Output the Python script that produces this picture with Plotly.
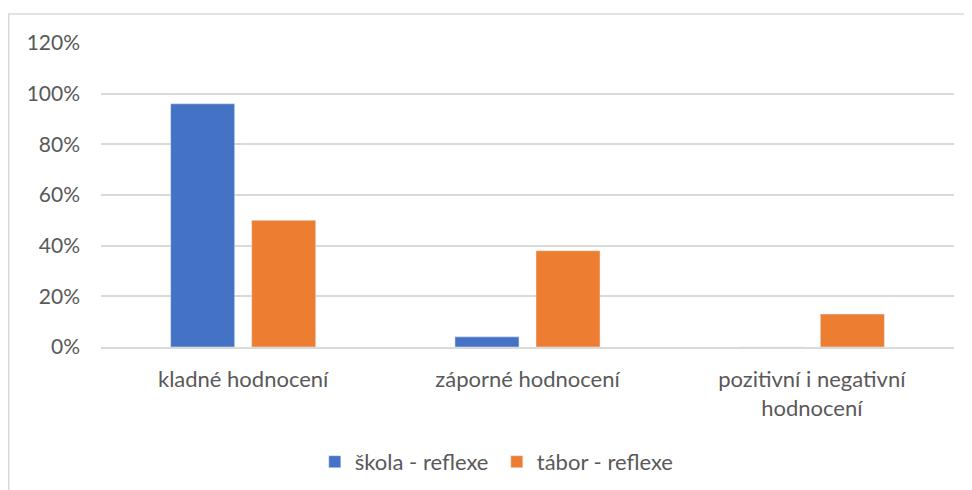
import plotly.graph_objects as go

kategorie = ["kladné hodnocení", "záporné hodnocení", "pozitivní i negativní<br>hodnocení"]
skola = [0.96, 0.04, 0.0]
tabor = [0.50, 0.38, 0.13]
y_ticks = [0, 0.2, 0.4, 0.6, 0.8, 1.0, 1.2]
y_labels = ["0%", "20%", "40%", "60%", "80%", "100%", "120%"]

font = "Lato, sans-serif"

fig = go.Figure()
fig.add_trace(go.Bar(name="škola - reflexe", x=kategorie, y=skola, marker_color="#4472C4"))
fig.add_trace(go.Bar(name="tábor - reflexe", x=kategorie, y=tabor, marker_color="#ED7D31"))

# page body has an 8px margin, so the figure is a bit smaller than the window
fig.update_layout(
    width=964, height=482,
    margin=dict(l=93, r=18, t=35, b=143, autoexpand=False),
    paper_bgcolor="white", plot_bgcolor="white",
    barmode="group", bargap=0.43, bargroupgap=0.21,
    font=dict(family=font, size=21, color="#595959"),
    legend=dict(orientation="h", x=0.464, xanchor="center", y=-0.378, yanchor="middle",
                font=dict(size=22), itemwidth=30, entrywidth=137, entrywidthmode="pixels"),
    showlegend=True,
)
fig.update_yaxes(range=[0, 1.2], tickvals=y_ticks, ticktext=y_labels, automargin=False,
                 showgrid=True, gridcolor="#d9d9d9", gridwidth=1.5,
                 zeroline=False, showline=False, ticks="", ticklabelstandoff=20)
fig.update_xaxes(showgrid=False, showline=True, linecolor="#d9d9d9", linewidth=1.5,
                 ticks="", ticklabelstandoff=12, automargin=False, tickfont=dict(size=22))
fig.add_shape(type="rect", xref="paper", yref="paper",
              x0=(0.75 - 93) / 853, x1=1.1, y0=-0.6, y1=1.0954,
              line=dict(color="#d9d9d9", width=1.5), fillcolor="rgba(0,0,0,0)", layer="below")

fig.write_html("out.html")
